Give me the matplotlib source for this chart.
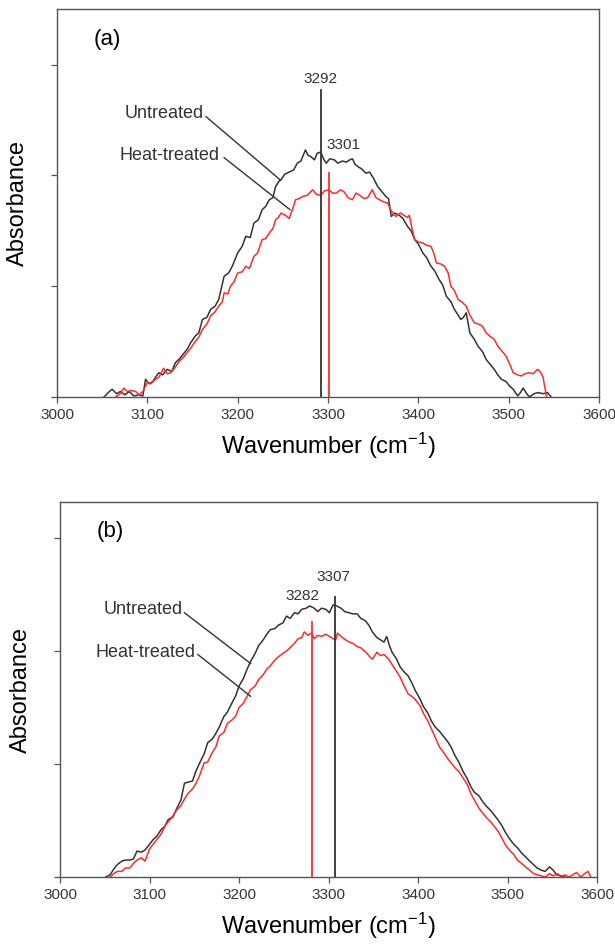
import matplotlib
matplotlib.use("Agg")
from matplotlib import pyplot as plt

plt.rcParams['font.family'] = ['Liberation Sans', 'DejaVu Sans']
plt.rcParams['mathtext.fontset'] = 'custom'
plt.rcParams['mathtext.rm'] = 'Liberation Sans'
plt.rcParams['mathtext.it'] = 'Liberation Sans:italic'

# ---- panel (a) spectra ----
a_untreated_x = [3052, 3058, 3061, 3066, 3070, 3075, 3080, 3085, 3091, 3095, 3098, 3102,
                 3106, 3110, 3113, 3117, 3122, 3127, 3131, 3135, 3139, 3144, 3148, 3153,
                 3157, 3161, 3166, 3170, 3175, 3179, 3185, 3190, 3194, 3200, 3205, 3209,
                 3214, 3218, 3223, 3227, 3231, 3235, 3239, 3242, 3246, 3248, 3252, 3257,
                 3262, 3266, 3270, 3275, 3278, 3281, 3285, 3288, 3292, 3295, 3298, 3302,
                 3307, 3311, 3316, 3320, 3324, 3327, 3330, 3333, 3337, 3342, 3346, 3350,
                 3355, 3359, 3364, 3367, 3370, 3374, 3379, 3383, 3388, 3392, 3396, 3400,
                 3405, 3409, 3414, 3418, 3423, 3427, 3431, 3436, 3440, 3444, 3447, 3450,
                 3453, 3457, 3462, 3466, 3471, 3475, 3479, 3484, 3488, 3492, 3497, 3501,
                 3505, 3510, 3513, 3516, 3520, 3523, 3528, 3533, 3538, 3543, 3547]
a_untreated_y = [0.00, 0.05, 0.07, 0.03, 0.05, 0.02, 0.05, 0.01, 0.02, 0.01, 0.16, 0.12,
                 0.14, 0.19, 0.22, 0.20, 0.25, 0.23, 0.31, 0.34, 0.38, 0.43, 0.49, 0.55,
                 0.58, 0.70, 0.72, 0.79, 0.82, 0.88, 1.09, 1.12, 1.18, 1.30, 1.36, 1.45,
                 1.44, 1.57, 1.60, 1.69, 1.72, 1.78, 1.80, 1.90, 1.95, 1.96, 2.01, 2.03,
                 2.05, 2.11, 2.13, 2.23, 2.18, 2.17, 2.14, 2.20, 2.21, 2.15, 2.11, 2.15,
                 2.14, 2.11, 2.13, 2.12, 2.14, 2.15, 2.10, 2.08, 2.06, 2.02, 2.03, 1.98,
                 1.90, 1.86, 1.81, 1.79, 1.63, 1.66, 1.64, 1.61, 1.54, 1.50, 1.42, 1.38,
                 1.30, 1.26, 1.18, 1.14, 1.06, 1.01, 0.91, 0.86, 0.79, 0.74, 0.70, 0.72,
                 0.76, 0.58, 0.52, 0.46, 0.41, 0.34, 0.30, 0.25, 0.20, 0.16, 0.14, 0.10,
                 0.07, 0.01, 0.04, 0.08, 0.03, 0.00, 0.03, 0.04, 0.03, 0.04, 0.00]

a_heat_x = [3065, 3070, 3074, 3078, 3082, 3087, 3091, 3095, 3100, 3104, 3109, 3113,
            3118, 3122, 3126, 3131, 3135, 3140, 3144, 3148, 3152, 3157, 3161, 3166,
            3170, 3175, 3179, 3183, 3185, 3189, 3192, 3196, 3200, 3205, 3209, 3213,
            3218, 3222, 3227, 3231, 3235, 3239, 3242, 3245, 3248, 3253, 3257, 3261,
            3264, 3268, 3272, 3277, 3283, 3287, 3292, 3296, 3301, 3305, 3309, 3314,
            3318, 3322, 3327, 3331, 3335, 3340, 3344, 3349, 3353, 3357, 3362, 3366,
            3370, 3375, 3380, 3384, 3388, 3390, 3393, 3396, 3400, 3405, 3409, 3414,
            3417, 3420, 3425, 3429, 3433, 3436, 3440, 3444, 3448, 3453, 3457, 3462,
            3466, 3471, 3475, 3479, 3484, 3488, 3492, 3497, 3501, 3505, 3510, 3514,
            3518, 3523, 3527, 3532, 3535, 3538, 3542]
a_heat_y = [0.00, 0.03, 0.08, 0.05, 0.06, 0.05, 0.02, 0.05, 0.13, 0.12, 0.16, 0.18,
            0.26, 0.21, 0.22, 0.27, 0.32, 0.36, 0.40, 0.44, 0.49, 0.54, 0.61, 0.66,
            0.73, 0.77, 0.82, 0.86, 0.94, 0.93, 1.00, 1.04, 1.12, 1.13, 1.18, 1.16,
            1.27, 1.30, 1.42, 1.43, 1.48, 1.52, 1.60, 1.62, 1.66, 1.64, 1.61, 1.70,
            1.78, 1.79, 1.81, 1.82, 1.87, 1.83, 1.82, 1.86, 1.87, 1.84, 1.84, 1.87,
            1.85, 1.80, 1.78, 1.84, 1.82, 1.79, 1.80, 1.87, 1.80, 1.78, 1.76, 1.75,
            1.68, 1.63, 1.66, 1.64, 1.62, 1.64, 1.52, 1.42, 1.40, 1.39, 1.37, 1.36,
            1.30, 1.21, 1.20, 1.18, 1.12, 1.00, 0.96, 0.88, 0.86, 0.82, 0.74, 0.67,
            0.66, 0.64, 0.58, 0.55, 0.52, 0.46, 0.42, 0.37, 0.30, 0.22, 0.20, 0.19,
            0.21, 0.22, 0.21, 0.25, 0.23, 0.18, 0.00]

# ---- panel (b) spectra ----
b_untreated_x = [3051, 3056, 3060, 3064, 3069, 3073, 3078, 3082, 3086, 3091, 3095, 3100,
                 3104, 3108, 3113, 3117, 3121, 3126, 3130, 3135, 3139, 3143, 3148, 3152,
                 3156, 3161, 3165, 3170, 3174, 3178, 3183, 3187, 3192, 3196, 3200, 3205,
                 3209, 3213, 3218, 3222, 3227, 3231, 3235, 3240, 3244, 3249, 3253, 3257,
                 3262, 3266, 3270, 3275, 3279, 3284, 3288, 3292, 3297, 3301, 3305, 3309,
                 3314, 3318, 3323, 3327, 3332, 3336, 3341, 3345, 3349, 3354, 3358, 3362,
                 3365, 3368, 3371, 3376, 3380, 3384, 3389, 3393, 3397, 3402, 3406, 3411,
                 3415, 3419, 3424, 3428, 3433, 3437, 3441, 3446, 3450, 3455, 3459, 3463,
                 3468, 3472, 3476, 3481, 3485, 3490, 3494, 3498, 3503, 3507, 3511, 3516,
                 3520, 3525, 3529, 3533, 3538, 3542, 3547, 3551, 3555, 3560, 3564]
b_untreated_y = [0.00, 0.02, 0.07, 0.11, 0.14, 0.15, 0.15, 0.16, 0.23, 0.22, 0.24, 0.29,
                 0.33, 0.36, 0.42, 0.45, 0.51, 0.53, 0.60, 0.68, 0.83, 0.84, 0.85, 0.94,
                 1.01, 1.09, 1.19, 1.22, 1.27, 1.33, 1.42, 1.46, 1.54, 1.60, 1.69, 1.76,
                 1.84, 1.91, 1.98, 2.05, 2.10, 2.15, 2.19, 2.20, 2.23, 2.25, 2.31, 2.29,
                 2.34, 2.33, 2.37, 2.38, 2.40, 2.38, 2.35, 2.38, 2.37, 2.34, 2.41, 2.40,
                 2.38, 2.35, 2.34, 2.33, 2.33, 2.29, 2.27, 2.23, 2.17, 2.12, 2.10, 2.08,
                 2.13, 2.05, 1.99, 1.93, 1.86, 1.82, 1.78, 1.72, 1.65, 1.58, 1.51, 1.45,
                 1.38, 1.33, 1.29, 1.25, 1.20, 1.15, 1.08, 1.01, 0.94, 0.87, 0.80, 0.75,
                 0.72, 0.67, 0.63, 0.59, 0.55, 0.50, 0.45, 0.39, 0.33, 0.29, 0.26, 0.21,
                 0.18, 0.14, 0.11, 0.08, 0.06, 0.05, 0.09, 0.06, 0.02, 0.01, 0.00]

b_heat_x = [3056, 3060, 3064, 3069, 3073, 3078, 3082, 3086, 3091, 3095, 3100, 3104,
            3108, 3113, 3117, 3121, 3126, 3130, 3135, 3139, 3143, 3148, 3152, 3156,
            3161, 3165, 3170, 3174, 3178, 3183, 3187, 3192, 3196, 3200, 3205, 3209,
            3213, 3218, 3222, 3227, 3231, 3235, 3240, 3244, 3249, 3253, 3257, 3262,
            3266, 3270, 3273, 3277, 3281, 3284, 3288, 3292, 3297, 3301, 3305, 3308,
            3310, 3314, 3319, 3323, 3327, 3332, 3336, 3340, 3343, 3346, 3349, 3354,
            3358, 3362, 3367, 3371, 3376, 3380, 3384, 3389, 3393, 3397, 3402, 3406,
            3411, 3415, 3419, 3424, 3428, 3433, 3437, 3441, 3446, 3450, 3455, 3459,
            3463, 3468, 3472, 3476, 3481, 3485, 3490, 3494, 3498, 3503, 3507, 3511,
            3516, 3520, 3525, 3529, 3533, 3538, 3542, 3547, 3551, 3556, 3560, 3564,
            3569, 3573, 3577, 3582, 3586, 3590, 3593]
b_heat_y = [0.00, 0.03, 0.05, 0.05, 0.08, 0.08, 0.12, 0.15, 0.17, 0.14, 0.25, 0.29,
            0.33, 0.38, 0.45, 0.49, 0.54, 0.59, 0.63, 0.69, 0.74, 0.78, 0.83, 0.90,
            1.01, 1.02, 1.10, 1.15, 1.25, 1.28, 1.36, 1.39, 1.42, 1.50, 1.54, 1.60,
            1.66, 1.69, 1.75, 1.79, 1.84, 1.87, 1.92, 1.95, 1.98, 2.00, 2.03, 2.07,
            2.11, 2.12, 2.17, 2.14, 2.16, 2.11, 2.14, 2.13, 2.15, 2.13, 2.11, 2.10,
            2.16, 2.13, 2.10, 2.08, 2.07, 2.04, 2.03, 2.00, 1.98, 1.95, 1.93, 1.99,
            1.96, 1.97, 1.93, 1.88, 1.82, 1.77, 1.70, 1.62, 1.60, 1.57, 1.52, 1.45,
            1.38, 1.31, 1.24, 1.15, 1.11, 1.05, 1.01, 0.97, 0.93, 0.88, 0.82, 0.74,
            0.68, 0.61, 0.57, 0.53, 0.49, 0.45, 0.40, 0.34, 0.28, 0.23, 0.20, 0.15,
            0.12, 0.09, 0.06, 0.03, 0.02, 0.01, 0.00, 0.03, 0.01, 0.03, 0.00, 0.02,
            0.00, 0.02, 0.04, 0.00, 0.03, 0.05, 0.00]

# peak markers: (position, top of marker line, colour, label x, label y)
a_peaks = [(3292, 2.77, 'black', 3292, 2.87), (3301, 2.02, 'red', 3317, 2.27)]
a_peak_labels = ['3292', '3301']
b_peaks = [(3307, 2.48, 'black', 3305, 2.66), (3282, 2.26, 'red', 3271, 2.49)]
b_peak_labels = ['3307', '3282']

xticks = [3000, 3100, 3200, 3300, 3400, 3500, 3600]
dark = '#333333'
red = '#ff2a2a'
spine = '#555555'

fig = plt.figure(figsize=(6.15, 9.46), dpi=100)
ax_a = fig.add_axes([0.0927, 0.5803, 0.8813, 0.410])
ax_b = fig.add_axes([0.0976, 0.0729, 0.8732, 0.3964])


def setup(ax, ytop, tag, tagy):
    ax.set_xlim(3000, 3600)
    ax.set_ylim(0, ytop)
    ax.set_xticks(xticks)
    ax.set_yticks([0, 1, 2, 3])
    ax.set_yticklabels([])
    ax.tick_params(axis='both', direction='out', length=4, width=0.9, color=spine,
                   labelsize=11, labelcolor='#35353f', pad=4)
    for s in ax.spines.values():
        s.set_color(spine)
        s.set_linewidth(1.0)
    ax.set_xlabel('Wavenumber (cm$^{-1}$)', fontsize=17, color='black', labelpad=6)
    ax.set_ylabel('Absorbance', fontsize=17, color='black', labelpad=12)
    ax.text(3041, tagy, tag, fontsize=16, color='black', va='center', ha='left')


def peaks(ax, pk, labels):
    for (pos, top, col, lx, ly), lab in zip(pk, labels):
        ax.plot([pos, pos], [0, top], color=red if col == 'red' else dark, lw=1.3)
        ax.text(lx, ly, lab, fontsize=11, color=dark, ha='center', va='center')


def leader(ax, text, tx, ty, x0, y0, x1, y1):
    ax.text(tx, ty, text, fontsize=13, color=dark, ha='right', va='center')
    ax.plot([x0, x1], [y0, y1], color=dark, lw=1.0)


# panel (a)
setup(ax_a, 3.5, '(a)', 3.23)
ax_a.plot(a_untreated_x, a_untreated_y, color=dark, lw=1.1)
ax_a.plot(a_heat_x, a_heat_y, color=red, lw=1.1)
peaks(ax_a, a_peaks, a_peak_labels)
leader(ax_a, 'Untreated', 3162, 2.56, 3165, 2.53, 3247, 1.96)
leader(ax_a, 'Heat-treated', 3180, 2.18, 3185, 2.16, 3258, 1.69)

# panel (b)
setup(ax_b, 3.32, '(b)', 3.06)
ax_b.plot(b_untreated_x, b_untreated_y, color=dark, lw=1.1)
ax_b.plot(b_heat_x, b_heat_y, color=red, lw=1.1)
peaks(ax_b, b_peaks, b_peak_labels)
leader(ax_b, 'Untreated', 3137, 2.37, 3139, 2.34, 3213, 1.89)
leader(ax_b, 'Heat-treated', 3151, 1.99, 3154, 1.97, 3213, 1.60)

fig.savefig('out.png', dpi=100)
